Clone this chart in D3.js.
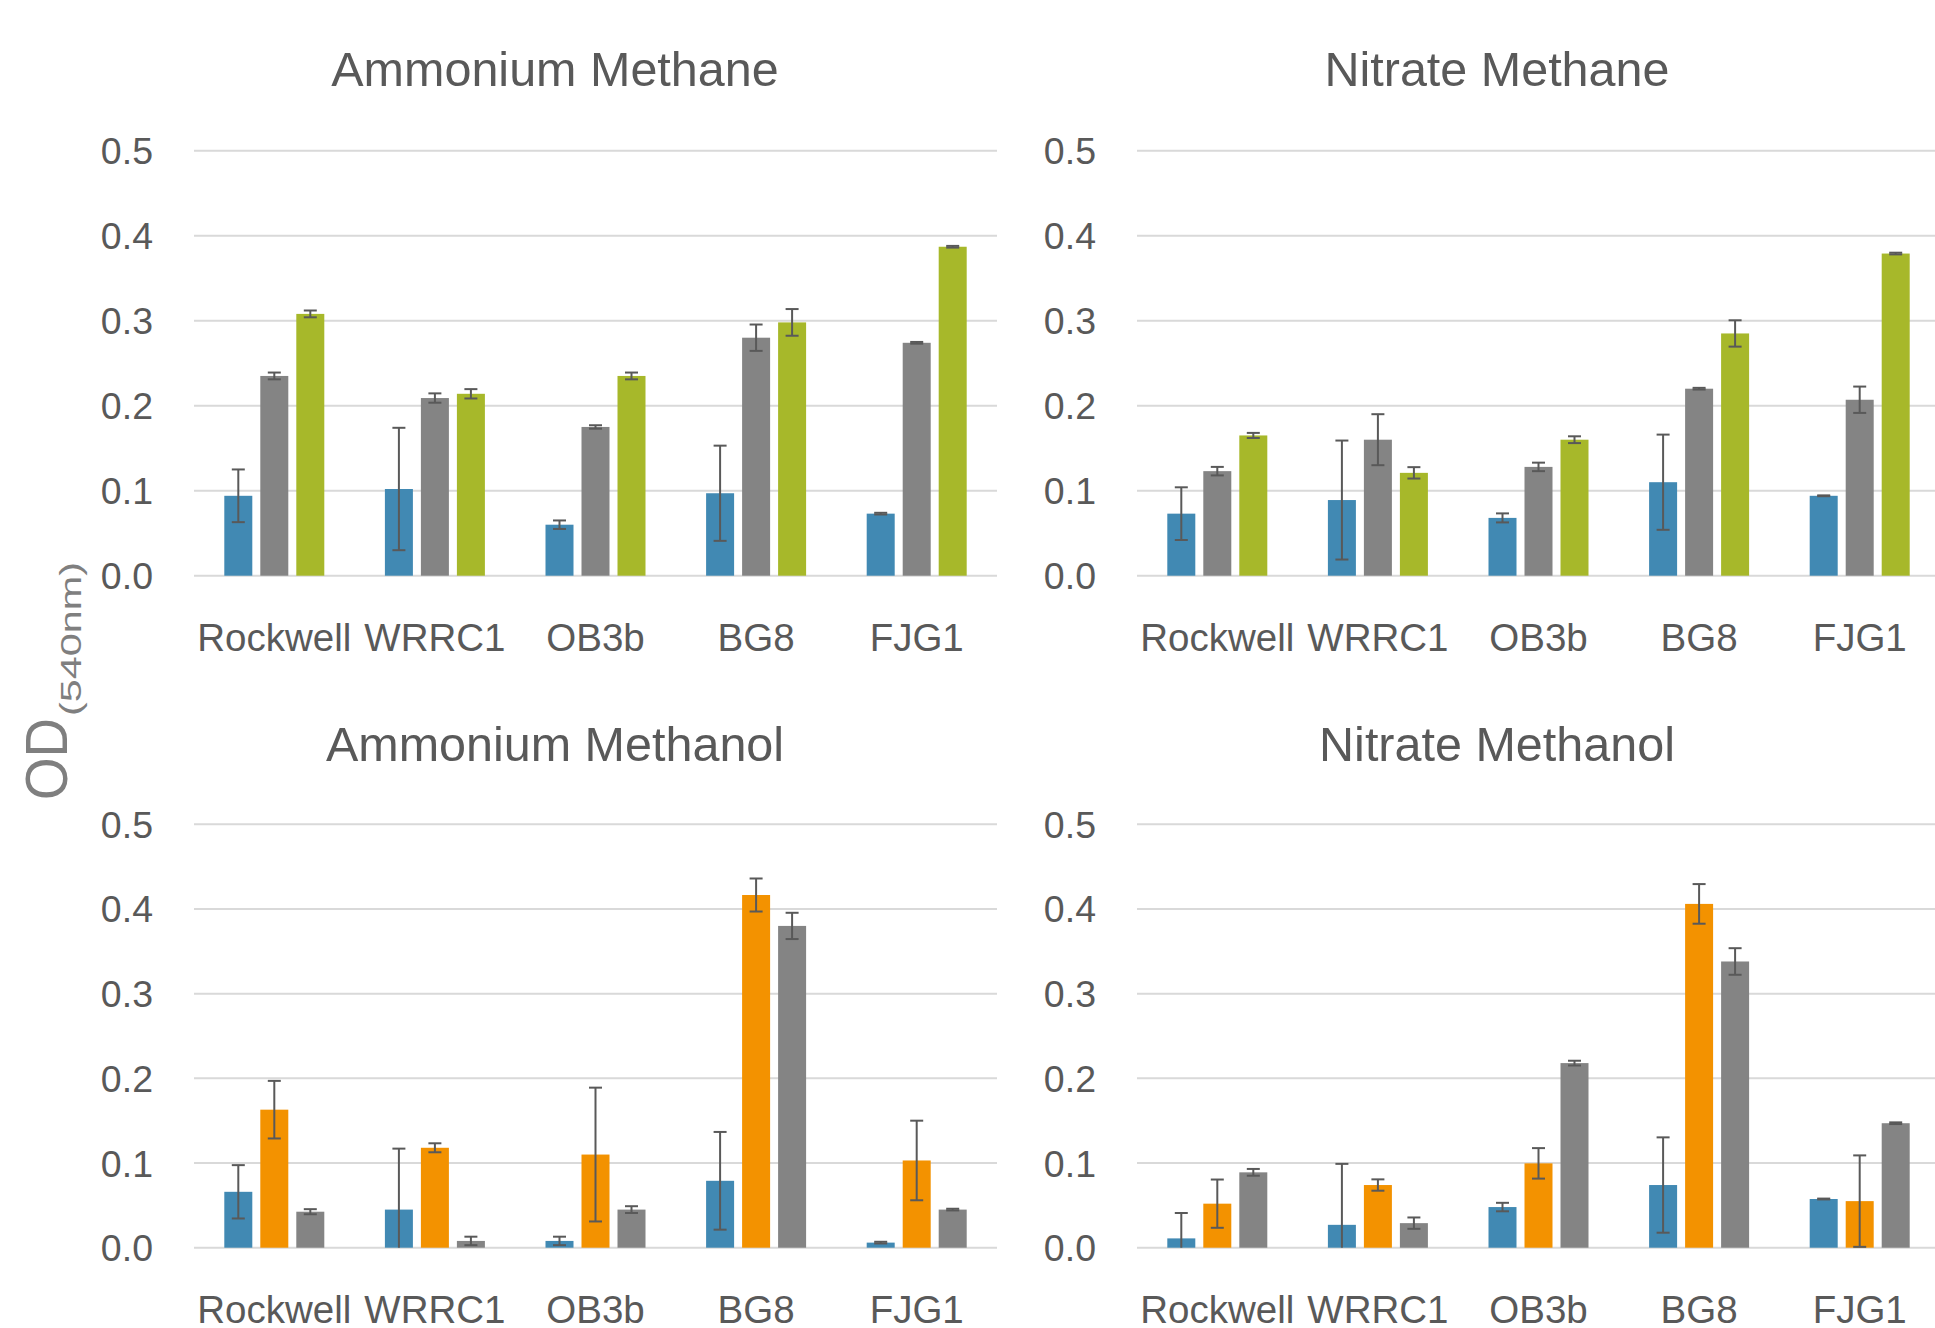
<!DOCTYPE html>
<html>
<head>
<meta charset="utf-8">
<script src="https://cdn.jsdelivr.net/npm/d3@7"></script>
<style>
  body { margin: 0; background: #fff; }
  svg { display: block; font-family: "Liberation Sans", Arial, sans-serif; }
</style>
</head>
<body>
<div class="chart"></div>
<script>
// categories and ticks
var strains = ["Rockwell", "WRRC1", "OB3b", "BG8", "FJG1"];
var yTicks = [0, 0.1, 0.2, 0.3, 0.4, 0.5];

// series colours: methane panels are blue/gray/green, methanol panels blue/orange/gray
var methaneColors = ["#4189b3", "#848484", "#a7b82a"];
var methanolColors = ["#4189b3", "#f39200", "#848484"];

// values, one row per series
var ammoniumMethaneValues = [
  [0.094, 0.102, 0.060, 0.097, 0.073],
  [0.235, 0.209, 0.175, 0.280, 0.274],
  [0.308, 0.214, 0.235, 0.298, 0.387]
];
var ammoniumMethaneErrors = [
  [0.031, 0.072, 0.005, 0.056, 0.001],
  [0.004, 0.0055, 0.002, 0.0155, 0.001],
  [0.004, 0.0055, 0.004, 0.0157, 0.001]
];

var nitrateMethaneValues = [
  [0.073, 0.089, 0.068, 0.110, 0.094],
  [0.123, 0.160, 0.128, 0.220, 0.207],
  [0.165, 0.121, 0.160, 0.285, 0.379]
];
var nitrateMethaneErrors = [
  [0.031, 0.070, 0.0053, 0.056, 0.0005],
  [0.005, 0.030, 0.005, 0.001, 0.0155],
  [0.003, 0.0067, 0.004, 0.0155, 0.001]
];

var ammoniumMethanolValues = [
  [0.066, 0.045, 0.008, 0.079, 0.006],
  [0.163, 0.118, 0.110, 0.4165, 0.103],
  [0.0425, 0.008, 0.045, 0.380, 0.045]
];
var ammoniumMethanolErrors = [
  [0.0315, 0.072, 0.005, 0.0577, 0.001],
  [0.034, 0.0053, 0.079, 0.0195, 0.047],
  [0.003, 0.005, 0.004, 0.0155, 0.001]
];

var nitrateMethanolValues = [
  [0.011, 0.027, 0.048, 0.074, 0.0575],
  [0.052, 0.074, 0.0996, 0.406, 0.055],
  [0.089, 0.029, 0.218, 0.338, 0.147]
];
var nitrateMethanolErrors = [
  [0.030, 0.072, 0.005, 0.0563, 0.0005],
  [0.0285, 0.0067, 0.018, 0.0234, 0.054],
  [0.004, 0.0067, 0.0028, 0.0157, 0.001]
];

var W = 1935, H = 1328;
var textColor = "#595959";

var svg = d3.select('.chart').append('svg')
  .attr('width', W)
  .attr('height', H);

var panels = [
  { title: "Ammonium Methane", values: ammoniumMethaneValues, errors: ammoniumMethaneErrors,
    colors: methaneColors, x0: 194, top: 150.7, bottom: 575.7, titleX: 555, titleY: 86 },
  { title: "Nitrate Methane", values: nitrateMethaneValues, errors: nitrateMethaneErrors,
    colors: methaneColors, x0: 1137, top: 150.7, bottom: 575.7, titleX: 1497, titleY: 86 },
  { title: "Ammonium Methanol", values: ammoniumMethanolValues, errors: ammoniumMethanolErrors,
    colors: methanolColors, x0: 194, top: 824.3, bottom: 1247.7, titleX: 555, titleY: 761 },
  { title: "Nitrate Methanol", values: nitrateMethanolValues, errors: nitrateMethanolErrors,
    colors: methanolColors, x0: 1137, top: 824.3, bottom: 1247.7, titleX: 1497, titleY: 761 }
];

var plotWidth = 803;

var drawPanel = function(p) {
  var g = svg.append('g');

  var x = d3.scaleBand()
    .domain(strains)
    .range([p.x0, p.x0 + plotWidth]);

  var x1 = d3.scaleBand()
    .domain(d3.range(p.values.length))
    .range([-50, 50])
    .paddingInner(8 / 36);

  var y = d3.scaleLinear()
    .domain([0, 0.5])
    .range([p.bottom, p.top]);

  // gridlines
  g.selectAll('line.grid')
    .data(yTicks)
    .enter()
    .append('line')
    .attr('class', 'grid')
    .attr('x1', p.x0)
    .attr('x2', p.x0 + plotWidth)
    .attr('y1', function(d) { return y(d); })
    .attr('y2', function(d) { return y(d); })
    .attr('stroke', '#d9d9d9')
    .attr('stroke-width', 2);

  // y tick labels
  g.selectAll('text.ytick')
    .data(yTicks)
    .enter()
    .append('text')
    .attr('class', 'ytick')
    .attr('x', p.x0 - 41)
    .attr('y', function(d) { return y(d); })
    .attr('dy', '0.36em')
    .attr('text-anchor', 'end')
    .attr('font-size', 37.5)
    .attr('fill', textColor)
    .text(function(d) { return d3.format('.1f')(d); });

  // x labels
  g.selectAll('text.xtick')
    .data(strains)
    .enter()
    .append('text')
    .attr('class', 'xtick')
    .attr('x', function(d) { return x(d) + x.bandwidth() / 2; })
    .attr('y', p.bottom + 75)
    .attr('text-anchor', 'middle')
    .attr('font-size', 38.5)
    .attr('fill', textColor)
    .text(function(d) { return d; });

  // bars, one group per series
  var series = g.selectAll('g.series')
    .data(p.values.map(function(vals, s) {
      return vals.map(function(v, i) {
        return { s: s, cat: strains[i], v: v, e: p.errors[s][i] };
      });
    }))
    .enter()
    .append('g')
    .attr('class', 'series');

  series.selectAll('rect')
    .data(function(d) { return d; })
    .enter()
    .append('rect')
    .attr('x', function(d) { return x(d.cat) + x.bandwidth() / 2 + x1(d.s); })
    .attr('y', function(d) { return y(d.v); })
    .attr('width', x1.bandwidth())
    .attr('height', function(d) { return y(0) - y(d.v); })
    .attr('fill', function(d) { return p.colors[d.s]; });

  // error bars, clipped at zero like the original
  var errs = series.selectAll('g.err')
    .data(function(d) { return d; })
    .enter()
    .append('g')
    .attr('class', 'err')
    .attr('stroke', '#595959')
    .attr('stroke-width', 2);

  var cx = function(d) { return x(d.cat) + x.bandwidth() / 2 + x1(d.s) + x1.bandwidth() / 2; };

  errs.append('line')
    .attr('x1', cx).attr('x2', cx)
    .attr('y1', function(d) { return y(d.v + d.e); })
    .attr('y2', function(d) { return y(Math.max(0, d.v - d.e)); });

  errs.append('line')
    .attr('x1', function(d) { return cx(d) - 6.5; })
    .attr('x2', function(d) { return cx(d) + 6.5; })
    .attr('y1', function(d) { return y(d.v + d.e); })
    .attr('y2', function(d) { return y(d.v + d.e); });

  errs.filter(function(d) { return d.v - d.e > 0; })
    .append('line')
    .attr('x1', function(d) { return cx(d) - 6.5; })
    .attr('x2', function(d) { return cx(d) + 6.5; })
    .attr('y1', function(d) { return y(d.v - d.e); })
    .attr('y2', function(d) { return y(d.v - d.e); });

  // title
  g.append('text')
    .attr('x', p.titleX)
    .attr('y', p.titleY)
    .attr('text-anchor', 'middle')
    .attr('font-size', 48.5)
    .attr('fill', textColor)
    .text(p.title);
};

panels.forEach(drawPanel);

// shared y axis title, OD with a subscript
var yTitle = svg.append('g')
  .attr('transform', 'translate(67,800) rotate(-90)')
  .attr('fill', '#7f7f7f');

yTitle.append('text')
  .attr('x', 0)
  .attr('y', 0)
  .attr('font-size', 60)
  .attr('textLength', 82)
  .attr('lengthAdjust', 'spacingAndGlyphs')
  .text('OD');

yTitle.append('text')
  .attr('x', 84)
  .attr('y', 14)
  .attr('font-size', 30)
  .attr('textLength', 154)
  .attr('lengthAdjust', 'spacingAndGlyphs')
  .text('(540nm)');
</script>
</body>
</html>
